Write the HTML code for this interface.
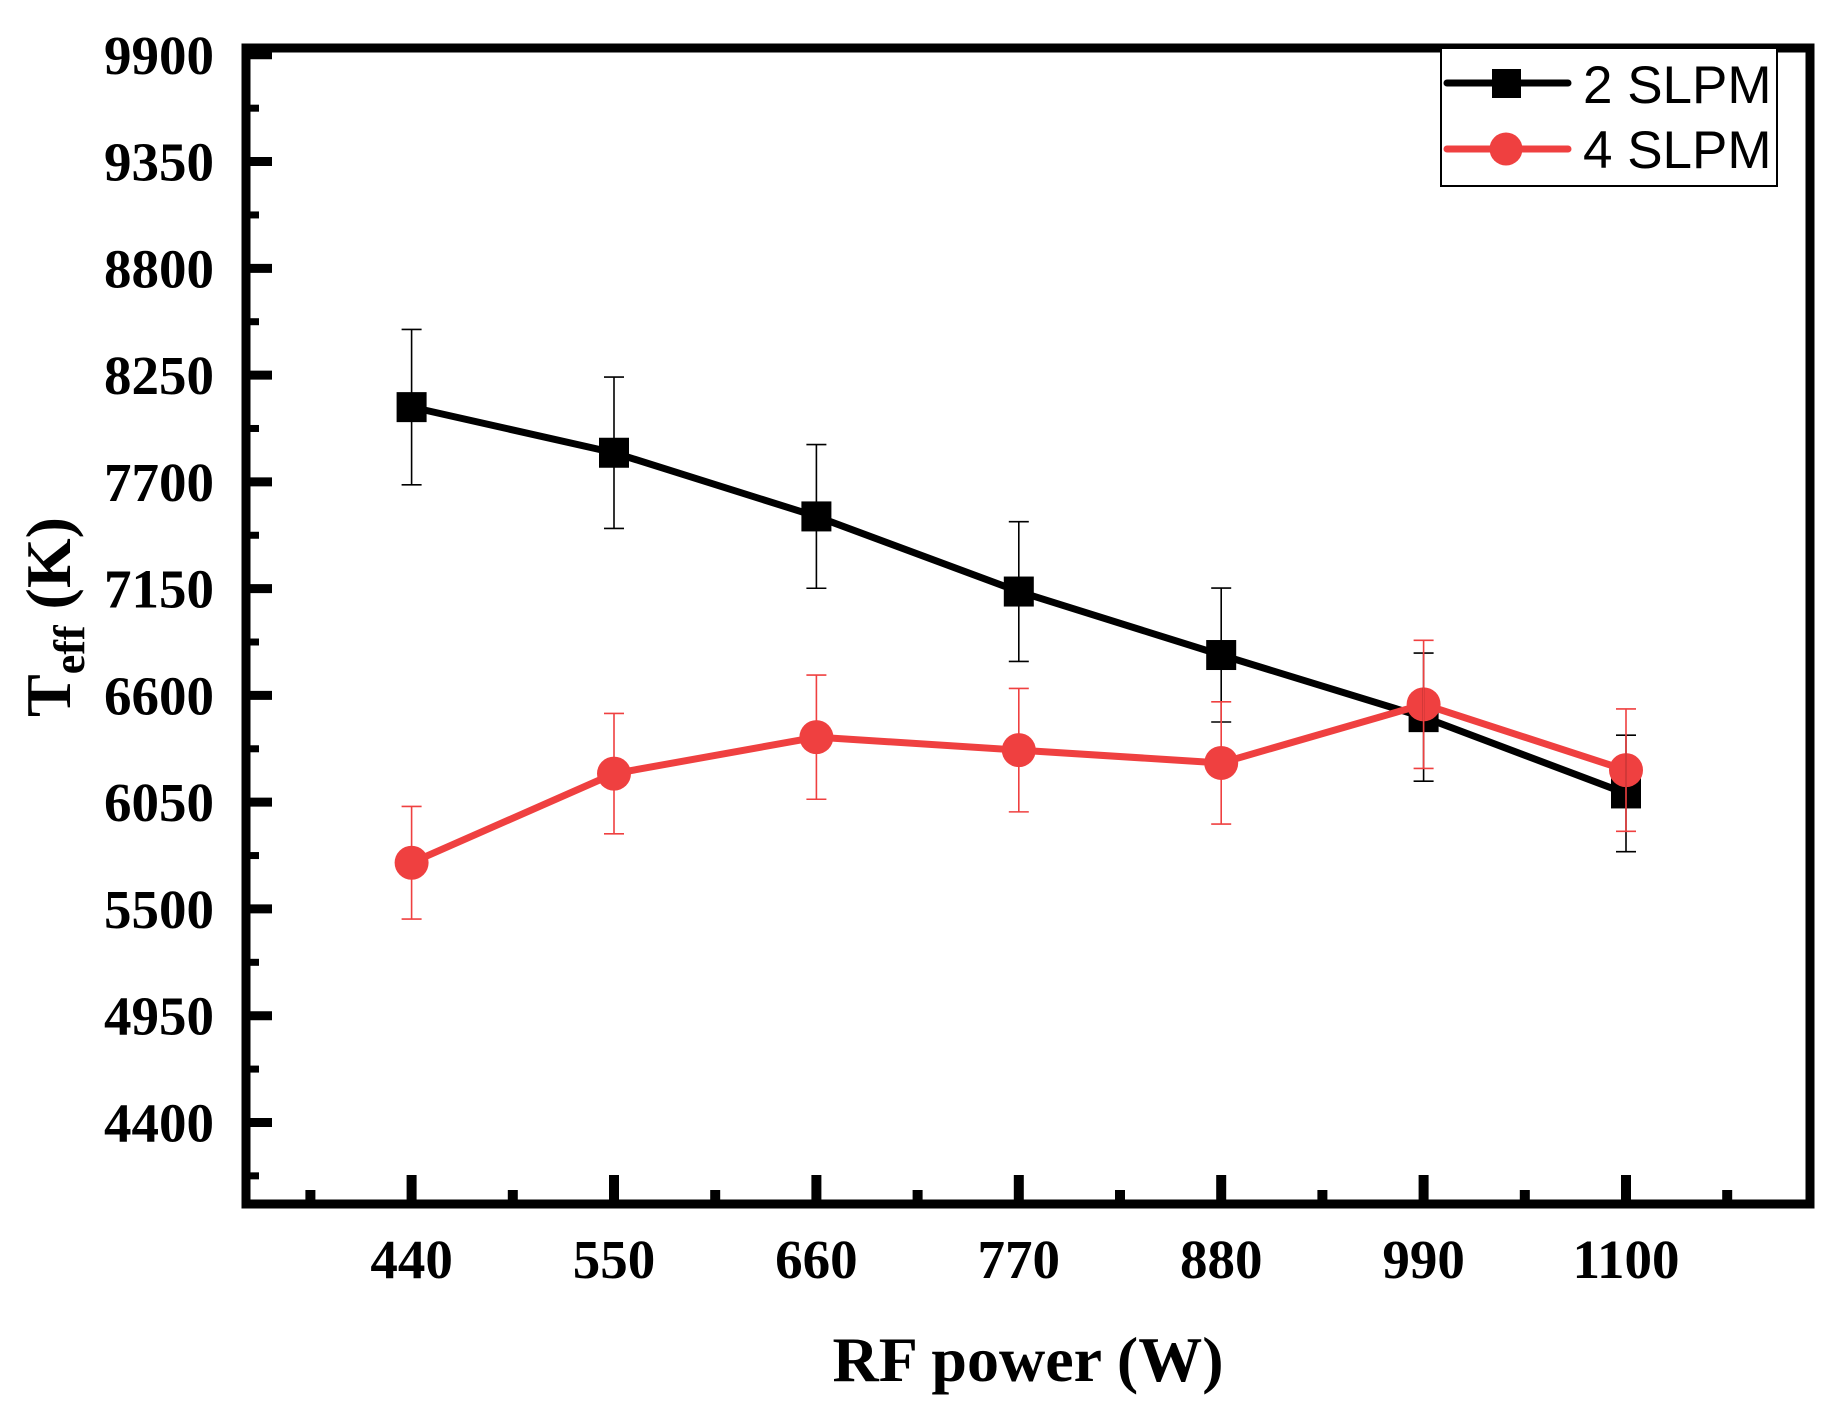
<!DOCTYPE html>
<html><head><meta charset="utf-8">
<style>
html,body{margin:0;padding:0;background:#fff;}
svg{display:block;}
.tick{font-family:"Liberation Serif",serif;font-weight:bold;font-size:55px;}
</style></head>
<body>
<svg id="chart" width="1843" height="1417" viewBox="0 0 1843 1417" xmlns="http://www.w3.org/2000/svg">
<g id="plot"></g>
<text x="1028" y="1381" text-anchor="middle" font-family="Liberation Serif, serif" font-weight="bold" font-size="64">RF power (W)</text>
<text transform="translate(70,617) rotate(-90)" text-anchor="middle" font-family="Liberation Serif, serif" font-weight="bold" font-size="64">T<tspan font-size="44" dy="14">eff</tspan><tspan dy="-14"> (K)</tspan></text>
<g>
<rect x="1441" y="48" width="336" height="138" fill="#fff" stroke="#000" stroke-width="2"/>
<g>
<line x1="1447" y1="83" x2="1568" y2="83" stroke="#000" stroke-width="7" stroke-linecap="round"/>
<rect x="1492" y="69" width="29" height="29" fill="#000"/>
<text x="1583" y="103" font-family="Liberation Sans, sans-serif" font-size="53">2 SLPM</text>
</g>
<g>
<line x1="1447" y1="149" x2="1568" y2="149" stroke="#ef4040" stroke-width="7" stroke-linecap="round"/>
<circle cx="1506" cy="149" r="16.5" fill="#ef4040"/>
<text x="1583" y="168" font-family="Liberation Sans, sans-serif" font-size="53">4 SLPM</text>
</g>
</g>
</svg>
<script>
const xCats = [440, 550, 660, 770, 880, 990, 1100];
const s2Values = [8085, 7850, 7522, 7135, 6808, 6488, 6095];
const s2Err = [400, 390, 370, 360, 345, 330, 300];
const s4Values = [5738, 6197, 6385, 6318, 6252, 6554, 6215];
const s4Err = [290, 310, 320, 318, 315, 330, 315];
const yTicks = [4400, 4950, 5500, 6050, 6600, 7150, 7700, 8250, 8800, 9350, 9900];

const L = 246, R = 1810, T = 48, B = 1204;
const xMin = 350, xMax = 1200, yMin = 3980, yMax = 9935;
function xs(v){ return L + (v - xMin) / (xMax - xMin) * (R - L); }
function ys(v){ return B - (v - yMin) / (yMax - yMin) * (B - T); }

const NS = 'http://www.w3.org/2000/svg';
const g = document.getElementById('plot');
function mk(tag, attrs, parent){
  const e = document.createElementNS(NS, tag);
  for (const k in attrs) e.setAttribute(k, attrs[k]);
  (parent || g).appendChild(e);
  return e;
}

const frame = mk('rect', {x:L, y:T, width:R-L, height:B-T, fill:'none', stroke:'#000', 'stroke-width':9});



yTicks.forEach(function(v){
  const y = ys(v);
  const t = mk('line', {x1:L, y1:y, x2:L+26, y2:y, stroke:'#000', 'stroke-width':9});
  
  
  if (v + 275 < yMax) {
    const m = mk('line', {x1:L, y1:ys(v+275), x2:L+13, y2:ys(v+275), stroke:'#000', 'stroke-width':7});
    
    
  }
  const lab = mk('text', {x:L-32, y:y+19, 'text-anchor':'end', class:'tick'});
  lab.textContent = String(v);
  
  
});
const m0 = mk('line', {x1:L, y1:ys(4400-275), x2:L+13, y2:ys(4400-275), stroke:'#000', 'stroke-width':7});



xCats.forEach(function(v){
  const x = xs(v);
  const t = mk('line', {x1:x, y1:B, x2:x, y2:B-29, stroke:'#000', 'stroke-width':10});
  
  
  const lab = mk('text', {x:x, y:1278, 'text-anchor':'middle', class:'tick'});
  lab.textContent = String(v);
  
  
});
[385, 495, 605, 715, 825, 935, 1045, 1155].forEach(function(v){
  const m = mk('line', {x1:xs(v), y1:B, x2:xs(v), y2:B-14, stroke:'#000', 'stroke-width':10});
  
  
});

function series(vals, color, shape, name){
  const pts = xCats.map(function(c, i){ return xs(c) + ',' + ys(vals[i]); }).join(' ');
  const pl = mk('polyline', {points:pts, fill:'none', stroke:color, 'stroke-width':7, 'stroke-linejoin':'round'});
  
  
  xCats.forEach(function(c, i){
    const x = xs(c), y = ys(vals[i]);
    let p;
    if (shape === 'square') p = mk('rect', {x:x-15, y:y-15, width:30, height:30, fill:color});
    else p = mk('circle', {cx:x, cy:y, r:17, fill:color});
    
    
  });
}
function errs(vals, err, color, name){
  xCats.forEach(function(c, i){
    const x = xs(c), y1 = ys(vals[i] + err[i]), y2 = ys(vals[i] - err[i]);
    const eg = mk('g', {stroke:color, 'stroke-width':1.6, fill:'none'});
    
    
    mk('line', {x1:x, y1:y1, x2:x, y2:y2}, eg);
    mk('line', {x1:x-10, y1:y1, x2:x+10, y2:y1}, eg);
    mk('line', {x1:x-10, y1:y2, x2:x+10, y2:y2}, eg);
  });
}
series(s2Values, '#000', 'square', 'series-2slpm');
series(s4Values, '#ef4040', 'circle', 'series-4slpm');
errs(s2Values, s2Err, '#000', 'series-2slpm');
errs(s4Values, s4Err, '#ef4040', 'series-4slpm');
</script>
</body></html>
